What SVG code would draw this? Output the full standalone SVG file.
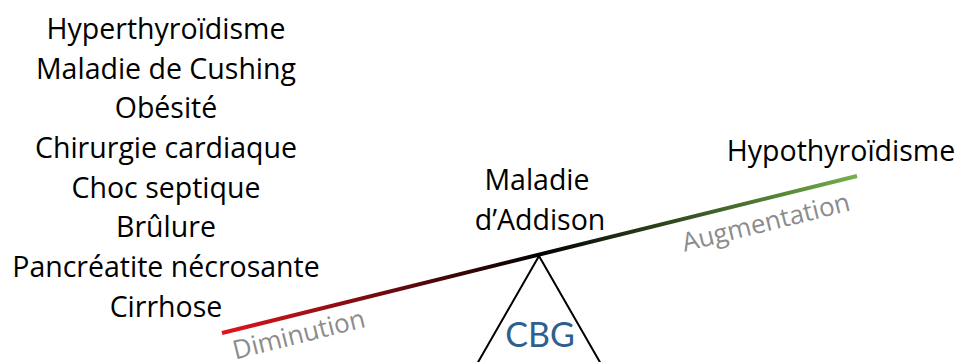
<svg xmlns="http://www.w3.org/2000/svg" width="959" height="362" viewBox="0 0 959 362">
<defs>
<linearGradient id="beam" gradientUnits="userSpaceOnUse" x1="222" y1="333" x2="857" y2="176">
<stop offset="0" stop-color="#e3141e"/>
<stop offset="0.5" stop-color="#000000"/>
<stop offset="1" stop-color="#74b04a"/>
</linearGradient>
<style>
.t{font-family:"Open Sans","Liberation Sans",sans-serif;font-size:28.5px;fill:#000;text-anchor:middle}
.g{font-family:"Open Sans","Liberation Sans",sans-serif;font-size:26px;fill:#8c8c8c;text-anchor:middle}
</style>
</defs>
<g id="causes-diminution">
<text class="t" x="166" y="39">Hyperthyroïdisme</text>
<text class="t" x="166" y="79">Maladie de Cushing</text>
<text class="t" x="166" y="118">Obésité</text>
<text class="t" x="166" y="158">Chirurgie cardiaque</text>
<text class="t" x="166" y="198">Choc septique</text>
<text class="t" x="166" y="237">Brûlure</text>
<text class="t" x="166" y="277">Pancréatite nécrosante</text>
<text class="t" x="166" y="317">Cirrhose</text>
</g>
<g id="addison">
<text class="t" x="537" y="190">Maladie</text>
<text class="t" x="540" y="230">d’Addison</text>
</g>
<g id="hypothyroidisme">
<text class="t" x="841" y="161">Hypothyroïdisme</text>
</g>
<g id="connectors">
<line x1="222" y1="333" x2="857" y2="176" stroke="url(#beam)" stroke-width="4"/>
</g>
<g id="fulcrum">
<polyline points="477,364 539,256 601,364" fill="none" stroke="#000" stroke-width="2"/>
<text x="540" y="347" font-family="Lato,'Liberation Sans',sans-serif" font-size="34" fill="#2f5f8f" text-anchor="middle">CBG</text>
</g>
<g id="labels">
<text class="g" transform="translate(301,343) rotate(-14)">Diminution</text>
<text class="g" transform="translate(768,231) rotate(-14)">Augmentation</text>
</g>
</svg>
